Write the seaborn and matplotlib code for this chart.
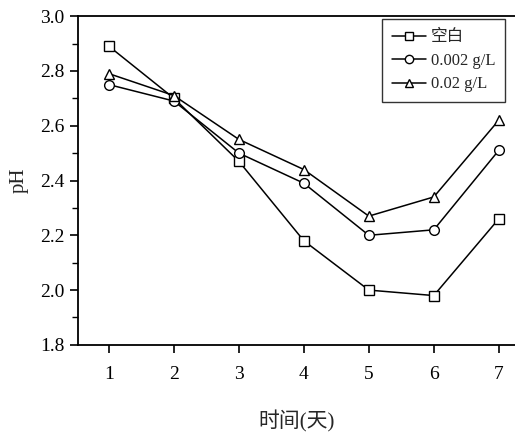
import pandas as pd
import matplotlib.pyplot as plt
import seaborn as sns

# Data
days = [1, 2, 3, 4, 5, 6, 7]
ph_blank = [2.89, 2.70, 2.47, 2.18, 2.00, 1.98, 2.26]
ph_0002 = [2.75, 2.69, 2.50, 2.39, 2.20, 2.22, 2.51]
ph_002 = [2.79, 2.71, 2.55, 2.44, 2.27, 2.34, 2.62]
series_names = ["空白", "0.002 g/L", "0.02 g/L"]

df = pd.concat([
    pd.DataFrame({"day": days, "pH": vals, "group": name})
    for name, vals in zip(series_names, [ph_blank, ph_0002, ph_002])
])

sns.set_theme(style="ticks")
fonts = ["Liberation Serif", "Noto Sans CJK SC", "DejaVu Sans"]
plt.rcParams["font.family"] = fonts

fig = plt.figure(figsize=(5.15, 4.36), dpi=100)
ax = fig.add_axes([0.151, 0.209, 0.849, 0.754])

markers = {"空白": "s", "0.002 g/L": "o", "0.02 g/L": "^"}
sns.lineplot(data=df, x="day", y="pH", hue="group", style="group",
             markers=markers, dashes=False, palette=["black"] * 3,
             markerfacecolor="white", markeredgecolor="black",
             markersize=7, markeredgewidth=1.0, linewidth=1.1,
             legend=False, ax=ax)

ax.set_xlim(0.52, 7.25)
ax.set_ylim(1.8, 3.0)
ax.set_xticks(days)
ax.set_yticks([1.8, 2.0, 2.2, 2.4, 2.6, 2.8, 3.0])
ax.set_yticks([1.9, 2.1, 2.3, 2.5, 2.7, 2.9], minor=True)
ax.tick_params(axis="both", which="major", labelsize=14, length=6, width=1.2,
               direction="out", color="black", labelcolor="black")
ax.tick_params(axis="y", which="minor", length=4, width=1.0, color="black")
ax.tick_params(axis="x", pad=9)

for side in ["left", "bottom", "top"]:
    ax.spines[side].set_color("black")
    ax.spines[side].set_linewidth(1.3)
ax.spines["right"].set_visible(False)

ax.set_xlabel("时间(天)", fontsize=15, labelpad=20, family=fonts)
ax.set_ylabel("pH", fontsize=15, labelpad=8, family=fonts)

handles = [
    plt.Line2D([], [], color="black", marker=markers[n], markerfacecolor="white",
               markeredgecolor="black", markersize=6, linewidth=1.1)
    for n in series_names
]
leg = ax.legend(handles, series_names, loc="upper right", bbox_to_anchor=(0.985, 1.0),
                fontsize=12, frameon=True, fancybox=False, edgecolor="black",
                handlelength=2.0, handletextpad=0.3, borderpad=0.6,
                labelspacing=0.45, borderaxespad=0.2)
leg.get_frame().set_linewidth(1.0)
for t in leg.get_texts():
    t.set_family(fonts)

fig.savefig("out.png", dpi=100)
